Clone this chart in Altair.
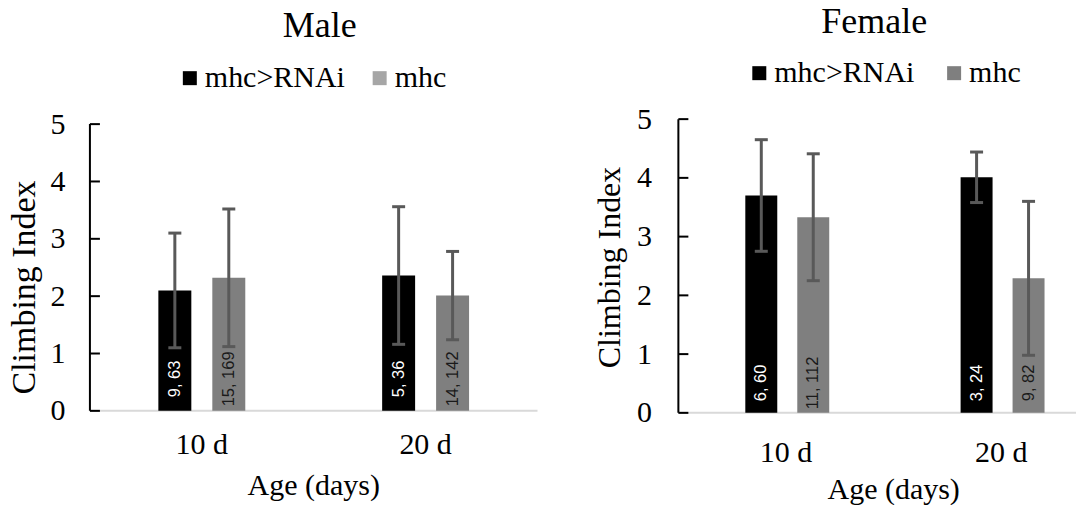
import altair as alt
import pandas as pd

# ---- data ----
ages = ["10 d", "10 d", "20 d", "20 d"]
genotypes = ["mhc>RNAi", "mhc", "mhc>RNAi", "mhc"]
male_mean = [2.10, 2.32, 2.36, 2.01]
male_err = [1.00, 1.20, 1.20, 0.77]
male_n = ["9, 63", "15, 169", "5, 36", "14, 142"]
female_mean = [3.70, 3.33, 4.01, 2.29]
female_err = [0.95, 1.08, 0.43, 1.31]
female_n = ["6, 60", "11, 112", "3, 24", "9, 82"]
age_order = ["10 d", "20 d"]
legend_order = ["mhc>RNAi", "mhc"]
y_ticks = [0, 1, 2, 3, 4, 5]
bar_colors = ["#000000", "#7f7f7f"]
male_legend_colors = ["#000000", "#a6a6a6"]
female_legend_colors = ["#000000", "#7f7f7f"]
x_title = "Age (days)"
y_title = "Climbing Index"

SERIF = "Liberation Serif"
SANS = "Liberation Sans"
ERR = "#595959"


def panel(title, means, errs, ns, legend_colors, width, xrange, xo_range, xo_pad,
          height, ymax, ytitle_size, ytitle_y, ytitle_pad, label_pad,
          xlabel_dy, xtitle_dy, legend_x, legend_y, legend_gap, title_dx,
          title_offset, text_dx):
    df = pd.DataFrame({
        "age": ages,
        "genotype": genotypes,
        "mean": means,
        "lo": [m - e for m, e in zip(means, errs)],
        "hi": [m + e for m, e in zip(means, errs)],
        "n": ns,
    })
    ticks_df = pd.DataFrame({"v": y_ticks})
    cats_df = pd.DataFrame({"age": age_order})

    yscale = alt.Scale(domain=[0, ymax], nice=False, zero=True)
    yaxis = alt.Axis(title=y_title, values=y_ticks,
                     domain=False, ticks=False, grid=False,
                     labelPadding=label_pad, labelFlush=False,
                     labelOverlap=False, labelFont=SERIF, labelFontSize=30,
                     labelColor="#000000", titleFont=SERIF,
                     titleFontWeight="normal", titleColor="#000000",
                     titlePadding=ytitle_pad,
                     titleFontSize=ytitle_size, titleY=ytitle_y)
    xscale = alt.Scale(domain=age_order, range=[0, xrange],
                       paddingInner=0, paddingOuter=0)
    x = alt.X("age:N", sort=age_order, scale=xscale, axis=None)
    xo = alt.XOffset("genotype:N", sort=legend_order,
                     scale=alt.Scale(domain=legend_order, range=xo_range,
                                     paddingInner=xo_pad, paddingOuter=0))

    def Y(field, **kw):
        return alt.Y(field, scale=yscale, axis=yaxis, **kw)

    base = alt.Chart(df)

    baseline = alt.Chart(ticks_df).transform_filter(alt.datum.v == 0).mark_rule(
        color="#d9d9d9", strokeWidth=2
    ).encode(x=alt.value(0), x2=alt.value(width), y=Y("v:Q"))

    bars = base.mark_bar().encode(
        x=x, xOffset=xo, y=Y("mean:Q"),
        color=alt.Color("genotype:N", scale=alt.Scale(domain=legend_order,
                                                      range=bar_colors),
                        legend=None),
    )

    err = base.mark_rule(color=ERR, strokeWidth=3).encode(
        x=x, xOffset=xo, y=Y("lo:Q"), y2="hi:Q")
    cap_hi = base.mark_tick(color=ERR, thickness=3, size=13, opacity=1).encode(
        x=x, xOffset=xo, y=Y("hi:Q"))
    cap_lo = base.mark_tick(color=ERR, thickness=3, size=13, opacity=1).encode(
        x=x, xOffset=xo, y=Y("lo:Q"))

    labels = base.mark_text(angle=270, align="center", baseline="middle",
                            dx=text_dx, font=SANS, fontSize=16.5).encode(
        x=x, xOffset=xo,
        y=alt.Y(datum=0, scale=yscale, axis=yaxis),
        text="n:N",
        color=alt.condition(alt.datum.genotype == "mhc>RNAi",
                            alt.value("#ffffff"), alt.value("#1a1a1a")),
    )

    # category labels under the baseline (x axis labels)
    cat_labels = alt.Chart(cats_df).mark_text(
        font=SERIF, fontSize=30, color="#000000", align="center",
        baseline="alphabetic", dy=xlabel_dy
    ).encode(x=x, y=alt.Y(datum=0, scale=yscale, axis=yaxis), text="age:N")

    # x axis title
    x_title_mark = alt.Chart(cats_df).transform_filter(
        alt.datum.age == age_order[0]
    ).mark_text(
        font=SERIF, fontSize=30, color="#000000", align="center",
        baseline="alphabetic", dy=xtitle_dy
    ).encode(x=alt.value(xrange / 2), y=alt.Y(datum=0, scale=yscale, axis=yaxis),
             text=alt.value(x_title))

    axis_line = alt.Chart(ticks_df).mark_rule(color="#000000", strokeWidth=2).encode(
        x=alt.value(0), y=Y("min(v):Q"), y2="max(v):Q")
    tick_marks = alt.Chart(ticks_df).mark_rule(color="#000000", strokeWidth=2).encode(
        x=alt.value(0), x2=alt.value(10), y=Y("v:Q"))

    legend_layer = base.transform_filter("false").mark_square(opacity=1).encode(
        fill=alt.Fill("genotype:N",
                      scale=alt.Scale(domain=legend_order, range=legend_colors),
                      legend=alt.Legend(orient="none", legendX=legend_x,
                                        legendY=legend_y,
                                        direction="horizontal", title=None,
                                        labelFont=SERIF, labelFontSize=30,
                                        labelColor="#000000",
                                        symbolType="square", symbolSize=196,
                                        symbolStrokeWidth=0, symbolOpacity=1,
                                        labelOffset=0, columnPadding=legend_gap,
                                        padding=0, labelLimit=0)))

    return alt.layer(baseline, bars, err, cap_hi, cap_lo, labels, cat_labels,
                     x_title_mark, axis_line, tick_marks, legend_layer).properties(
        width=width, height=height,
        title=alt.TitleParams(title, font=SERIF, fontSize=36,
                              fontWeight="normal", color="#000000",
                              anchor="middle", baseline="alphabetic",
                              dx=title_dx, offset=title_offset),
    ).resolve_scale(color="independent", fill="independent")


male = panel("Male", male_mean, male_err, male_n, male_legend_colors,
             width=448, xrange=448, xo_range=[68.5, 155.5], xo_pad=0.389,
             height=292, ymax=292 / 57.4,
             ytitle_size=34, ytitle_y=168, ytitle_pad=8, label_pad=25,
             xlabel_dy=43, xtitle_dy=84, legend_x=85, legend_y=-56,
             legend_gap=19, title_dx=6, title_offset=-10, text_dx=32)
female = panel("Female", female_mean, female_err, female_n,
               female_legend_colors, width=398, xrange=431,
               xo_range=[67, 151], xo_pad=0.385, height=294,
               ymax=5, ytitle_size=32, ytitle_y=148, ytitle_pad=10,
               label_pad=27, xlabel_dy=49, xtitle_dy=86, legend_x=66,
               legend_y=-61, legend_gap=24, title_dx=-3, title_offset=-11,
               text_dx=30)

chart = alt.hconcat(male, female, spacing=55).resolve_scale(
    x="independent", y="independent", xOffset="independent",
    color="independent", fill="independent"
).resolve_legend(fill="independent", color="independent").properties(
    padding={"left": 0, "top": -4, "right": 0, "bottom": 0},
    background="white"
).configure_view(strokeWidth=0, stroke="transparent")

chart.save("out.html", embed_options={"renderer": "svg", "actions": False})
